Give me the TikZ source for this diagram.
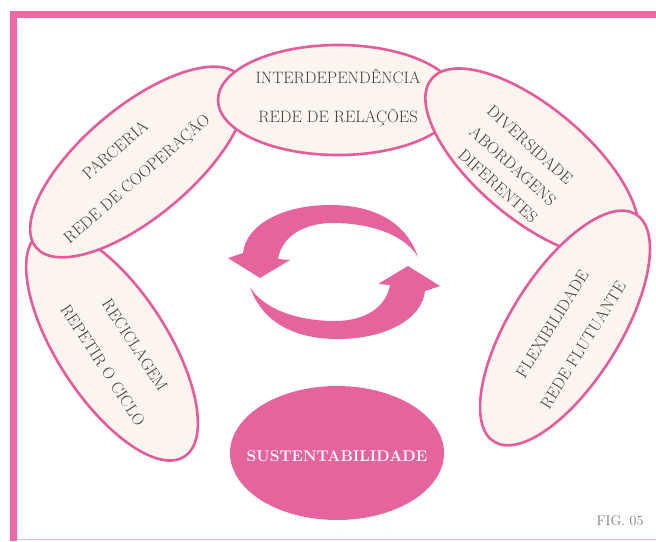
\documentclass[tikz,border=0pt]{standalone}
\usetikzlibrary{shapes.geometric}
\definecolor{pinkline}{HTML}{E55C9A}
\definecolor{pinkfill}{HTML}{E6649D}
\definecolor{framepink}{HTML}{EE6AA6}
\definecolor{cream}{HTML}{FCF4EF}
\definecolor{txt}{HTML}{4A3E3C}
\tikzset{
  petal/.style={ellipse, draw=pinkline, line width=2.6pt, fill=cream, inner sep=0pt},
  lbl/.style={text=txt, font=\fontsize{16.5}{18}\selectfont, inner sep=0pt},
  cyc/.style={fill=pinkfill, draw=none}
}
\begin{document}
\begin{tikzpicture}[x=1pt,y=-1pt]
\useasboundingbox (0,0) rectangle (656,541);
% frame
\fill[framepink] (10,11) rectangle (656,18);
\fill[framepink] (10,11) rectangle (17,541);
\draw[framepink!50, line width=1pt] (17,539.5) -- (656,539.5);
% petals
\node[petal, minimum width=266pt, minimum height=110pt, rotate=-57] (erec) at (112,345) {};
\node[petal, minimum width=266pt, minimum height=110pt, rotate=40] (epar) at (138,162) {};
\node[petal, minimum width=240pt, minimum height=110pt] (etop) at (338,100) {};
\node[petal, minimum width=262pt, minimum height=112pt, rotate=-40] (ediv) at (532,163) {};
\node[petal, minimum width=268pt, minimum height=110pt, rotate=58] (eflex) at (565,328) {};
% labels
\node[lbl] (t1a) at (338,77) {INTERDEPENDÊNCIA};
\node[lbl] (t1b) at (338,117) {REDE DE RELAÇÕES};
\node[lbl, rotate=41] (t2a) at (115,150) {PARCERIA};
\node[lbl, rotate=41] (t2b) at (137,179) {REDE DE COOPERAÇÃO};
\node[lbl, rotate=-42] (t3a) at (530,145) {DIVERSIDADE};
\node[lbl, rotate=-42] (t3b) at (513,166) {ABORDAGENS};
\node[lbl, rotate=-42] (t3c) at (498,186) {DIFERENTES};
\node[lbl, rotate=-57] (t4a) at (135,345) {RECICLAGEM};
\node[lbl, rotate=-57] (t4b) at (103,365) {REPETIR O CICLO};
\node[lbl, rotate=58] (t5a) at (552,324) {FLEXIBILIDADE};
\node[lbl, rotate=58] (t5b) at (583,345) {REDE FLUTUANTE};
% cycle arrows
\begin{scope}[shift={(334,272)}]
\fill[cyc] (84,-15) .. controls (72,-50) and (40,-67) .. (-4,-67)
  .. controls (-50,-67) and (-88,-48) .. (-91,-19) -- (-106,-14) -- (-74,6) -- (-44,-12) -- (-56,-13)
  .. controls (-52,-36) and (-30,-49) .. (-1,-49)
  .. controls (35,-49) and (70,-38) .. (84,-15) -- cycle;
\end{scope}
\begin{scope}[shift={(334,272)}, rotate=180]
\fill[cyc] (84,-15) .. controls (72,-50) and (40,-67) .. (-4,-67)
  .. controls (-50,-67) and (-88,-48) .. (-91,-19) -- (-106,-14) -- (-74,6) -- (-44,-12) -- (-56,-13)
  .. controls (-52,-36) and (-30,-49) .. (-1,-49)
  .. controls (35,-49) and (70,-38) .. (84,-15) -- cycle;
\end{scope}
% center goal
\node[ellipse, fill=pinkfill, minimum width=214pt, minimum height=134pt, inner sep=0pt] (sus) at (337,453) {};
\node[text=white, font=\fontsize{15.5}{17}\selectfont\bfseries, inner sep=0pt] (sustxt) at (337,456) {SUSTENTABILIDADE};
\node[text=txt!70, font=\fontsize{14}{15}\selectfont, inner sep=0pt] (fig) at (620,521) {FIG. 05};
\end{tikzpicture}
\end{document}
